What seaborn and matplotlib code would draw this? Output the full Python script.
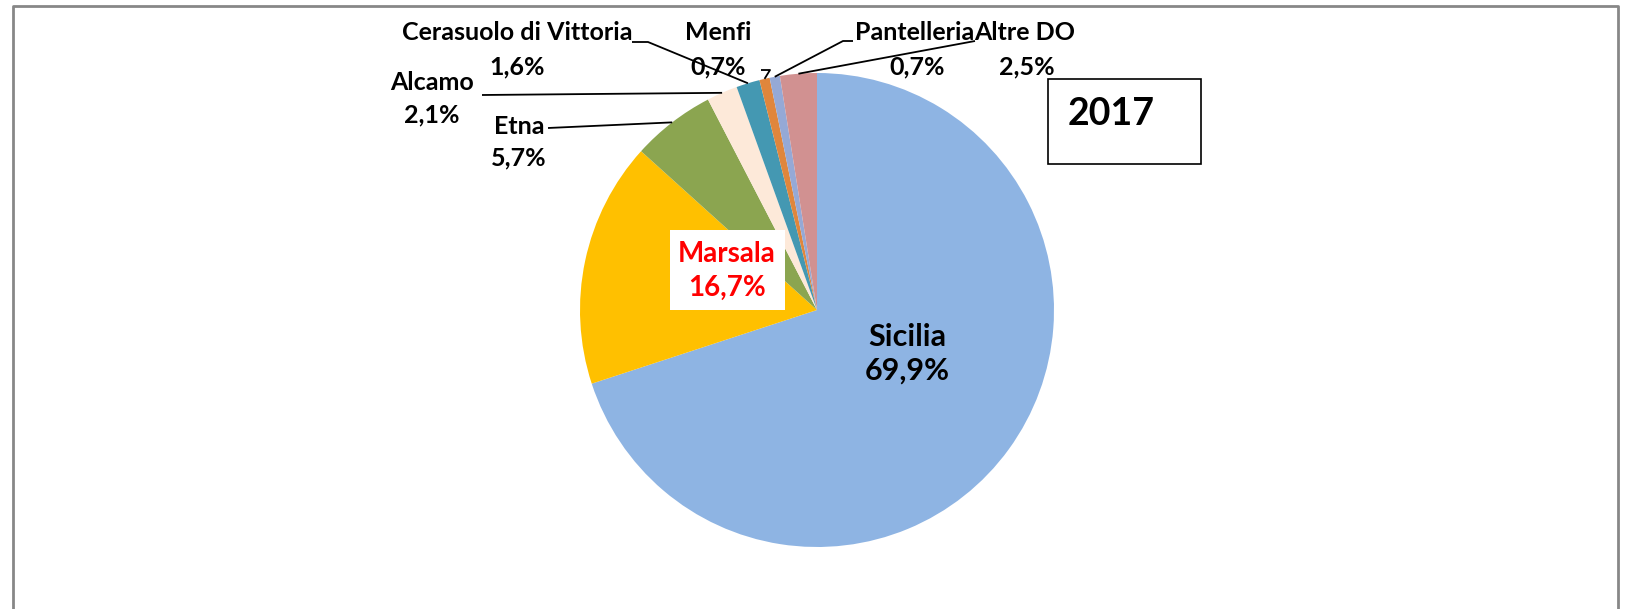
import matplotlib
matplotlib.use("Agg")
import matplotlib.pyplot as plt
from matplotlib.patches import Rectangle
import numpy as np
import seaborn as sns

# data (share of production, 2017)
categories = ['Sicilia', 'Marsala', 'Etna', 'Alcamo', 'Cerasuolo di Vittoria',
              'Menfi', 'Pantelleria', 'Altre DO']
shares = [69.9, 16.7, 5.7, 2.1, 1.6, 0.7, 0.7, 2.5]
share_labels = ['69,9%', '16,7%', '5,7%', '2,1%', '1,6%', '0,7%', '0,7%', '2,5%']
year = '2017'

palette = sns.color_palette(['#8EB4E3', '#FFC000', '#8BA550', '#FDE9D9',
                             '#4498B2', '#E0863C', '#95A9D6', '#D19191'])

W, H = 1625, 609
sns.set_style("white")
plt.rcParams['font.family'] = ['Lato', 'DejaVu Sans']

fig = plt.figure(figsize=(W / 100, H / 100), dpi=100)
ax = fig.add_axes([0, 0, 1, 1])

cx, cy, r = 817, H - 310, 237
wedges, _ = ax.pie(shares, colors=palette, startangle=90, counterclock=False,
                   center=(cx, cy), radius=r, frame=True,
                   wedgeprops=dict(linewidth=0, edgecolor='none'))
ax.set_xlim(0, W)
ax.set_ylim(0, H)
ax.axis('off')

# mid angles of each wedge, used for leader lines
total = sum(shares)
ends = 90 - np.cumsum(shares) / total * 360
starts = ends + np.array(shares) / total * 360
mids = np.deg2rad((starts + ends) / 2)


def edge(i, k=1.0):
    return cx + r * k * np.cos(mids[i]), cy + r * k * np.sin(mids[i])


def ty(y):
    return H - y


fs = 18
txt = dict(fontsize=fs, fontweight='bold', color='black', ha='center', va='center')

# Sicilia and Marsala inside
ax.text(907, ty(337), categories[0], fontsize=22, fontweight='bold', color='black',
        ha='center', va='center')
ax.text(907, ty(371), share_labels[0], fontsize=22, fontweight='bold', color='black',
        ha='center', va='center')
ax.add_patch(Rectangle((670, ty(310)), 115, 80, facecolor='white', edgecolor='none', zorder=3))
ax.text(727, ty(254), categories[1], fontsize=20, fontweight='bold', color='#FF0000',
        ha='center', va='center', zorder=4)
ax.text(727, ty(288), share_labels[1], fontsize=20, fontweight='bold', color='#FF0000',
        ha='center', va='center', zorder=4)

# outside labels: (name x, name y, pct x, pct y)
outside = {
    2: (519, 127, 519, 158),
    3: (432, 83, 432, 115),
    4: (517, 33, 517, 67),
    5: (718, 33, 718, 67),
    6: (915, 33, 917, 67),
    7: (1025, 33, 1027, 67),
}
for i, (nx, ny, px, py) in outside.items():
    ax.text(nx, ty(ny), categories[i], **txt)
    ax.text(px, ty(py), share_labels[i], **txt)

lk = dict(color='black', lw=1.3, solid_capstyle='butt')
# leader lines
ex, ey = edge(2)
ax.plot([548, ex], [ty(128), ey], **lk)
ex, ey = edge(3)
ax.plot([482, ex], [ty(95), ey], **lk)
ex, ey = edge(4)
ax.plot([632, 648, ex], [ty(42), ty(42), ey], **lk)
ex, ey = edge(5)
ax.plot([761, 770, ex], [ty(70), ty(70), ey], **lk)
ex, ey = edge(6)
ax.plot([853, 843, ex], [ty(41), ty(41), ey], **lk)
ex, ey = edge(7)
ax.plot([975, ex], [ty(41), ey], **lk)

# year box
ax.add_patch(Rectangle((1048, ty(164)), 153, 85, facecolor='white', edgecolor='black', lw=1.2))
ax.text(1111, ty(114), year, fontsize=27, fontweight='bold', color='black',
        ha='center', va='center')

# outer frame
ax.plot([13, 13, 1618, 1618], [0, ty(6), ty(6), 0], color='#878787', lw=2)

fig.savefig('out.png', dpi=100)
